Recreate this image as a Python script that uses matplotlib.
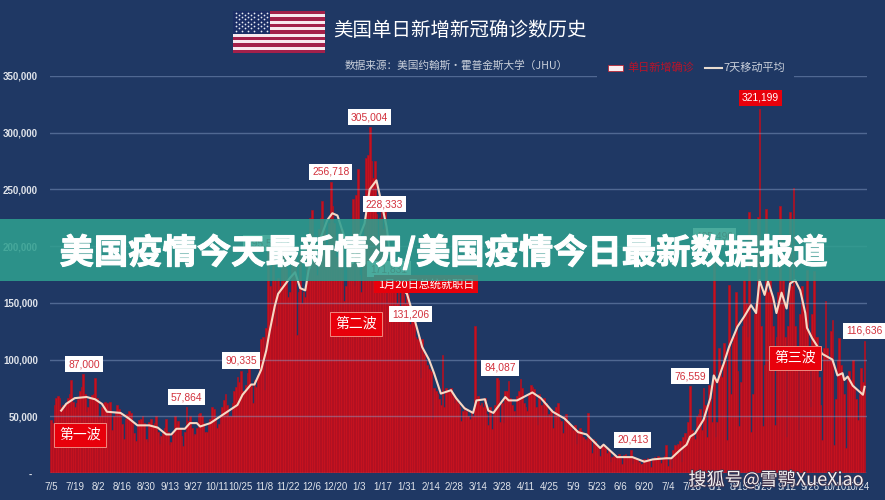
import numpy as np
import matplotlib
matplotlib.use("Agg")
import matplotlib.pyplot as plt
from matplotlib.patches import Rectangle
import matplotlib.patheffects as pe

CJK = "Noto Sans CJK SC"
plt.rcParams["font.family"] = ["Liberation Sans", CJK, "DejaVu Sans"]

# Daily new confirmed cases in thousands, starting 2020-07-05, ten days per row
daily_cases = [
    47, 44, 60, 66, 68, 66, 58, 60, 56, 62,
    66, 70, 82, 63, 58, 62, 65, 72, 76, 87.0,
    70, 54, 58, 66, 69, 70, 83.5, 66, 48, 50,
    58, 62, 63, 62, 52, 63, 38, 50, 54, 60,
    56, 52, 43, 30, 48, 52, 55, 53, 46, 35,
    28, 42, 47, 48, 50, 44, 30, 27, 45, 48,
    42, 44, 50, 36, 26, 33, 35, 40, 48, 36,
    25, 27, 34, 50, 43, 46, 40, 33, 24, 36,
    57.864, 46, 50, 40, 33, 34, 40, 52, 53, 50,
    44, 36, 36, 44, 48, 58, 56, 48, 40, 43,
    50, 58, 64, 70, 60, 50, 50, 62, 72, 76,
    85, 80, 90.335, 72, 72, 78, 88, 92, 78, 62,
    82, 76, 86, 100, 118, 120, 73, 128, 195.542, 165,
    150, 185, 170, 130, 172, 165, 190, 200, 205, 180,
    155, 160, 190, 185, 195, 122, 160, 195, 150, 160,
    155, 200, 210, 225, 232, 205, 190, 175, 215, 225,
    240, 215, 195, 185, 220, 256.718, 235, 220, 190, 185,
    198, 215, 215, 152, 165, 195, 190, 200, 242, 165,
    245, 268, 175, 160, 200, 220, 278, 280, 305.004, 275,
    260, 275, 228.333, 205, 225, 232, 215, 235, 150, 165,
    171.831, 195, 185, 170, 150, 190, 140, 175, 165, 150,
    165, 158, 131.206, 145, 135, 120, 118, 120, 84, 118,
    105, 100, 95, 92, 90, 48, 75, 72, 70, 65,
    60, 104, 58, 75, 72, 72, 75, 68, 62, 65,
    62, 58, 46, 55, 58, 55, 50, 48, 54, 50,
    129.6, 62, 68, 60, 62, 58, 66, 52, 42, 58,
    39, 55, 60, 84.087, 82, 45, 62, 44, 72, 72,
    81, 66, 60, 55, 50, 68, 72, 83, 75, 62,
    58, 55, 70, 78, 76, 74, 58, 42, 70, 60,
    52, 66, 62, 50, 52, 56, 40, 55, 58, 62,
    48, 46, 35, 50, 52, 46, 42, 40, 38, 42,
    26, 38, 40, 37, 32, 30, 28, 53, 30, 18,
    30, 28, 24, 22, 15, 25, 24, 22, 18, 20,
    10, 14, 15, 16, 14, 17, 13, 8, 16, 17,
    15, 14, 20.413, 8, 14, 13, 12, 10, 8, 8,
    12, 11, 13, 12, 5, 12, 14, 13, 15, 14,
    9, 12, 15, 25, 6, 13, 4, 20, 25, 24,
    26, 28, 10, 32, 35, 25, 45, 76.559, 38, 35,
    30, 50, 52, 56, 38, 75, 60, 32, 78, 70,
    45, 195.49, 32, 45, 110, 95, 85, 115, 100, 29,
    166, 70, 115, 120, 160, 90, 41, 80, 130, 170,
    150, 120, 230, 36, 70, 140, 150, 226, 321.199, 130,
    41, 95, 233, 160, 170, 155, 130, 42, 120, 160,
    235, 150, 170, 120, 32, 130, 230, 165, 251, 130,
    95, 38, 140, 165, 150, 135, 179, 100, 58, 140,
    178, 120, 120, 85, 60, 29, 110, 152, 110, 100,
    125, 135, 25, 65, 100, 119, 95, 85, 70, 22,
    85, 90, 82, 100, 75, 65, 47, 70, 92.6, 80, 116.636,
]

# Seven-day moving average in thousands, by day number
avg_days = [6, 9, 14, 21, 26, 30, 33, 41, 46, 51, 58, 63, 68, 71, 74, 79, 82, 86, 88, 94,
            100, 105, 110, 113, 118, 120, 124, 127, 129, 132, 134, 137, 141, 144, 147, 150,
            152, 163, 166, 169, 174, 178, 181, 185, 188, 192, 195, 198, 200, 204, 210, 211,
            214, 219, 223, 226, 230, 234, 236, 239, 244, 249, 251, 256, 258, 261, 268, 270,
            275, 284, 289, 296, 303, 311, 316, 324, 326, 334, 343, 350, 355, 363, 366, 371,
            375, 377, 380, 385, 389, 391, 393, 397, 400, 405, 409, 413, 416, 418, 421, 423,
            426, 428, 431, 434, 436, 439, 442, 445, 446, 449, 452, 455, 461, 464, 467, 468,
            470, 473, 479, 480]
avg_values = [55, 61, 66, 67, 65, 61, 54, 53, 48, 42, 42, 40, 34, 34, 39, 39, 44, 44, 41, 44,
              50, 55, 60, 69, 78, 78, 91, 108, 125, 147, 158, 164, 172, 177, 163, 161,
              179, 223, 229, 227, 204, 185, 205, 220, 250, 258, 238, 217, 194, 167, 158, 153,
              138, 111, 100, 88, 70, 72, 73, 66, 57, 53, 64, 65, 55, 53, 67, 64,
              64, 71, 66, 54, 48, 36, 34, 22, 25, 14, 14, 10, 12, 13, 13, 20,
              25, 32, 35, 47, 66, 86, 80, 97, 111, 129, 138, 148, 141, 170, 157, 169,
              155, 141, 159, 145, 167, 170, 161, 141, 128, 119, 112, 105, 100, 86, 88, 82,
              85, 77, 69, 76]

# Days that carry a value label, with the label's offset from the top of the bar
label_days = [19, 80, 112, 128, 165, 188, 192, 200, 212, 263, 342, 377, 391, 418, 480]
label_offsets = [(1, 10), (0, 10), (0, 10), (-3, 8), (0, 10), (0, 10), (8, 10), (-1, 9),
                 (0, 10), (3, 10), (2, 10), (0, 10), (1, 15), (1, 11), (0, 10)]
record_day = 418

tick_labels = ["7/5", "7/19", "8/2", "8/16", "8/30", "9/13", "9/27", "10/11", "10/25", "11/8",
               "11/22", "12/6", "12/20", "1/3", "1/17", "1/31", "2/14", "2/28", "3/14", "3/28",
               "4/11", "4/25", "5/9", "5/23", "6/6", "6/20", "7/4", "7/18", "8/1", "8/15",
               "8/29", "9/12", "9/26", "10/10", "10/24"]
tick_step = 14
y_ticks = [0, 50000, 100000, 150000, 200000, 250000, 300000, 350000]

NAVY = "#1f3864"
BAR = "#c5121f"
W, H = 885, 500

fig = plt.figure(figsize=(W / 100, H / 100), dpi=100, facecolor=NAVY)
ax = fig.add_axes([50 / W, (H - 473) / H, 817 / W, 397 / H], facecolor=NAVY)

px_per_day = 1.695
ax.set_xlim(-1 / px_per_day, 816 / px_per_day)
ax.set_ylim(0, 350000)

cases = np.array(daily_cases) * 1000
days = np.arange(len(cases))
ax.bar(days, cases, width=1.0, color=BAR, edgecolor="#b40f20", linewidth=0.45, zorder=2)
ax.plot(avg_days, np.array(avg_values) * 1000, color="#f7d8c4", lw=1.5, zorder=4,
        solid_joinstyle="round")

for s in ax.spines.values():
    s.set_visible(False)
ax.set_yticks(y_ticks)
ax.set_yticklabels(["-  " if v == 0 else f"{v:,}" for v in y_ticks],
                   fontsize=7, fontweight="bold", color="#dfe3ea")
ax.set_xticks(np.arange(len(tick_labels)) * tick_step)
ax.set_xticklabels(tick_labels, fontsize=7, color="#dfe3ea")
ax.tick_params(axis="both", length=0)
ax.tick_params(axis="y", pad=8.8)
ax.tick_params(axis="x", pad=6.5)
ax.grid(axis="y", color="#8ea4cc", alpha=0.45, lw=1, zorder=3)
ax.set_axisbelow(False)
ax.xaxis.grid(False)

# Pixel-addressed layer for the header, callouts and banner
over = fig.add_axes([0, 0, 1, 1], zorder=10)
over.set_xlim(0, W)
over.set_ylim(H, 0)
over.axis("off")
over.patch.set_alpha(0)

# Value callouts
for d, (dx, dy) in zip(label_days, label_offsets):
    val = daily_cases[d]
    txt = f"{round(val * 1000):,}"
    hot = d == record_day
    ax.annotate(txt, xy=(d, val * 1000), xytext=(dx, dy), textcoords="offset pixels",
                ha="center", va="center", fontsize=7.4, zorder=6,
                color="white" if hot else "#d2313c",
                bbox=dict(boxstyle="square,pad=0.3", fc="#e8000b" if hot else "white", ec="none"))

# Wave tags
for x, y, t in [(80, 435, "第一波"), (356, 324, "第二波"), (795, 358, "第三波")]:
    ax.text(x, y, t, transform=over.transData, ha="center", va="center", fontsize=10,
            family=CJK, color="white", zorder=6,
            bbox=dict(boxstyle="square,pad=0.35", fc="#e8000b", ec="#f08a80", lw=0.7))
ax.text(426, 284, "1月20日总统就职日", transform=over.transData, ha="center", va="center",
        fontsize=8, family=CJK, color="white", zorder=6,
        bbox=dict(boxstyle="square,pad=0.3", fc="#e8000b", ec="none"))

# Header: gap in the top gridline behind the legend, title, source, legend
over.add_patch(Rectangle((597, 60), 197, 20, fc=NAVY, ec="none", zorder=1))
over.text(459.5, 31, "美国单日新增新冠确诊数历史", ha="center", va="center", fontsize=14,
          family=CJK, color="white", zorder=2)
over.text(456.5, 66, "数据来源：美国约翰斯·霍普金斯大学（JHU）", ha="center", va="center",
          fontsize=7.7, family=[CJK, "DejaVu Sans"], color="#c9cfda", zorder=2)
over.add_patch(Rectangle((608, 65), 15, 6, fc="#fbeef0", ec="#c5121f", lw=0.5, zorder=2))
over.text(627, 68, "单日新增确诊", ha="left", va="center", fontsize=8, family=CJK,
          color="#b8142a", zorder=2)
over.plot([705, 722], [68, 68], color="#e8dcd0", lw=1.5, zorder=2)
over.text(723, 68, "7天移动平均", ha="left", va="center", fontsize=8, family=CJK,
          color="#c9cfda", zorder=2)

# Flag
flag = fig.add_axes([233 / W, (H - 53) / H, 92 / W, 42 / H], zorder=11)
flag.set_xlim(0, 1)
flag.set_ylim(13, 0)
flag.axis("off")
for i in range(13):
    flag.add_patch(Rectangle((0, i), 1, 1, fc="#a3204a" if i % 2 == 0 else "#f7e8ee", ec="none"))
flag.add_patch(Rectangle((0, 0), 0.4, 7, fc="#1c2f66", ec="none", zorder=2))
star_x, star_y = [], []
for r in range(9):
    n = 6 if r % 2 == 0 else 5
    for c in range(n):
        star_x.append((c + 0.5 + (0 if r % 2 == 0 else 0.5)) * 0.4 / 6)
        star_y.append((r + 0.7) * 7 / 10)
flag.scatter(star_x, star_y, s=1.6, color="#e9edf5", linewidths=0, zorder=3)

# Banner across the middle, drawn over the chart
over.add_patch(Rectangle((0, 219), W, 62, fc="#2f9f8f", alpha=0.87, ec="none", zorder=5))
over.text(443, 252.5, "美国疫情今天最新情况/美国疫情今日最新数据报道", ha="center", va="center",
          fontsize=24.7, family=CJK, fontweight="bold", color="white", zorder=6,
          path_effects=[pe.withStroke(linewidth=0.8, foreground="white")])

# Source mark
over.text(776, 480, "搜狐号@雪鹗XueXiao", ha="center", va="center", fontsize=13,
          family=[CJK, "DejaVu Sans"], color="#f2f2f2", zorder=6,
          path_effects=[pe.withStroke(linewidth=1.2, foreground="#40304a")])

fig.savefig("out.png", dpi=100, facecolor=NAVY)
